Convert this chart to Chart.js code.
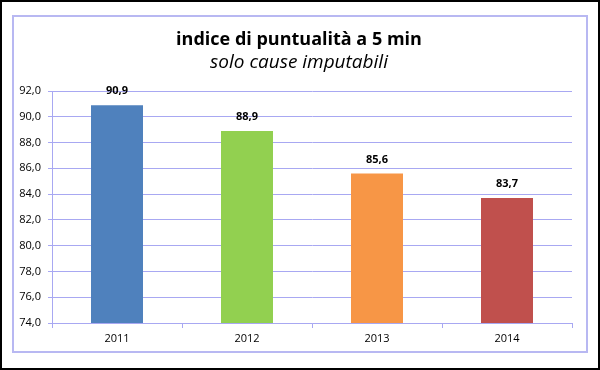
<!DOCTYPE html>
<html lang="it">
  <head>
    <meta charset="UTF-8" />
    <title>indice di puntualità</title>
    <script src="https://cdn.jsdelivr.net/npm/chart.js"></script>
    <style>
      html, body { margin: 0; padding: 0; background: #ffffff; }
      #wrap { width: 600px; height: 370px; position: relative; }
    </style>
    <script>
      const years = ["2011", "2012", "2013", "2014"];
      const values = [90.9, 88.9, 85.6, 83.7];
      const barColors = ["#4f81bd", "#92d050", "#f79646", "#c0504d"];
      const titleText = "indice di puntualità a 5 min";
      const subtitleText = "solo cause imputabili";
      const FONT = "'Open Sans', 'Noto Sans', sans-serif";
      const GRID = "#a8a8f2";

      const fmt = (v) => v.toFixed(1).replace(".", ",");

      // frame + titles
      const framePlugin = {
        id: "frame",
        beforeDraw(chart) {
          const ctx = chart.ctx;
          ctx.save();
          ctx.fillStyle = "#ffffff";
          ctx.fillRect(0, 0, chart.width, chart.height);
          ctx.strokeStyle = "#000000";
          ctx.lineWidth = 2;
          ctx.strokeRect(1, 1, chart.width - 2, chart.height - 2);
          ctx.strokeStyle = "#b8b8f2";
          ctx.lineWidth = 2;
          ctx.strokeRect(13, 16, 574, 336);
          ctx.fillStyle = "#000000";
          ctx.textAlign = "center";
          ctx.textBaseline = "middle";
          ctx.font = "bold 18px " + FONT;
          ctx.fillText(titleText, 299, 40);
          ctx.font = "italic 19px " + FONT;
          ctx.fillText(subtitleText, 299, 63);
          ctx.restore();
        },
      };

      const valueLabels = {
        id: "valueLabels",
        afterDatasetsDraw(chart) {
          const ctx = chart.ctx;
          const meta = chart.getDatasetMeta(0);
          ctx.save();
          ctx.font = "bold 11px " + FONT;
          ctx.fillStyle = "#000000";
          ctx.textAlign = "center";
          ctx.textBaseline = "middle";
          meta.data.forEach((bar, i) => {
            ctx.fillText(fmt(values[i]), bar.x, bar.y - 14);
          });
          ctx.restore();
        },
      };

      document.addEventListener("DOMContentLoaded", function () {
        const ctx = document.getElementById("chart");
        new Chart(ctx, {
          type: "bar",
          data: {
            labels: years,
            datasets: [
              {
                data: values,
                backgroundColor: barColors,
                borderWidth: 0,
                barPercentage: 0.4,
                categoryPercentage: 1,
              },
            ],
          },
          options: {
            responsive: false,
            animation: false,
            layout: { padding: { top: 91, right: 28, left: 0, bottom: 0 } },
            plugins: {
              legend: { display: false },
              title: { display: false },
              tooltip: { enabled: false },
            },
            scales: {
              x: {
                afterFit: (s) => { s.height = 47; },
                grid: {
                  offset: true,
                  drawOnChartArea: false,
                  tickLength: 5,
                  color: GRID,
                },
                border: { color: GRID, width: 1 },
                ticks: {
                  color: "#000000",
                  font: { family: FONT, size: 11 },
                  padding: 4,
                },
              },
              y: {
                min: 74,
                max: 92,
                afterFit: (s) => { s.width = 52; },
                grid: { color: GRID, tickLength: 4 },
                border: { color: GRID, width: 1 },
                ticks: {
                  stepSize: 2,
                  color: "#000000",
                  font: { family: FONT, size: 11 },
                  padding: 7,
                  callback: (v) => fmt(v),
                },
              },
            },
          },
          plugins: [framePlugin, valueLabels],
        });
      });
    </script>
  </head>
  <body>
    <div id="wrap">
      <canvas id="chart" width="600" height="370"></canvas>
    </div>
  </body>
</html>
